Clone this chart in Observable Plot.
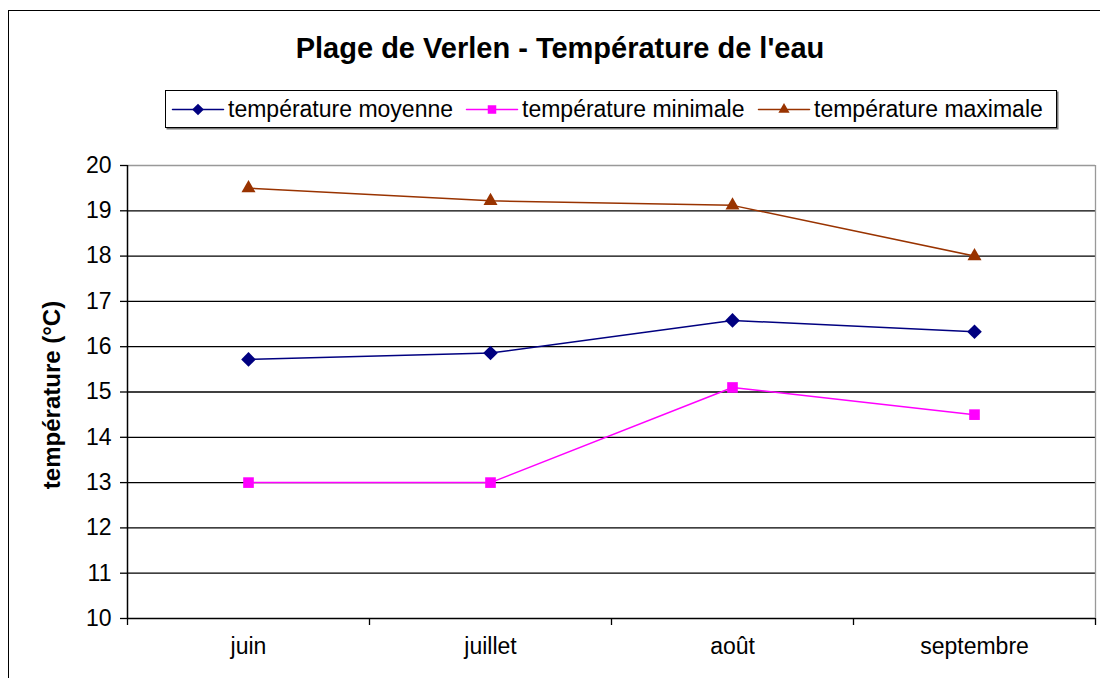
<!DOCTYPE html>
<html><head><meta charset="utf-8">
<script src="https://cdn.jsdelivr.net/npm/d3@7"></script>
<script src="https://cdn.jsdelivr.net/npm/@observablehq/plot@0.6"></script>
<style>
body{margin:0;background:#fff;font-family:"Liberation Sans",Arial,sans-serif;}
#wrap{position:relative;width:1100px;height:678px;overflow:hidden;}
#frame{position:absolute;left:8px;top:10px;width:1200px;height:800px;border-left:1.5px solid #000;border-top:1.5px solid #000;}
#title{position:absolute;left:0;width:1120px;top:31px;text-align:center;font-weight:bold;font-size:29px;line-height:34px;color:#000;}
#legend{position:absolute;left:165px;top:90px;width:890px;height:36px;border:1.2px solid #000;box-shadow:1.5px 1.5px 0 #777;color:#000;background:#fff;}
.item{position:absolute;top:0;height:36px;display:flex;align-items:center;font-size:23px;}
.item svg{margin-right:5px;}
#chart{position:absolute;left:0;top:0;}
</style></head>
<body><div id="wrap"><div id="frame"></div><div id="title"></div><div id="legend"></div><div id="chart"></div></div>
<script>
const months = ["juin","juillet","août","septembre"];
const moyenne = [15.72,15.86,16.58,16.33];
const minimale = [13.0,13.0,15.1,14.5];
const maximale = [19.5,19.22,19.12,18.0];
const seriesNames = ["température moyenne","température minimale","température maximale"];
const colors = ["#000080","#FF00FF","#993300"];
const symbols = ["diamond2","square","triangle"];
const yTicks = [10,11,12,13,14,15,16,17,18,19,20];

document.getElementById("title").textContent = "Plage de Verlen - Température de l'eau";

const allSeries = [moyenne, minimale, maximale];
const data = [];
allSeries.forEach((vals, s) => vals.forEach((v, i) => data.push({serie: seriesNames[s], pos: i + 0.5, month: months[i], value: v})));

const markerR = {"température moyenne": 6.6, "température minimale": 6.0, "température maximale": 5.2};

const chart = Plot.plot({
  width: 1100, height: 678,
  marginLeft: 127, marginRight: 5, marginTop: 165, marginBottom: 60,
  style: {fontFamily: "'Liberation Sans', Arial, sans-serif", background: "transparent", overflow: "visible"},
  x: {type: "linear", domain: [0, months.length], axis: null},
  y: {domain: [10, 20], axis: null},
  color: {domain: seriesNames, range: colors},
  symbol: {domain: seriesNames, range: symbols},
  marks: [
    Plot.ruleY(yTicks.filter(t => t > 10 && t < 20), {stroke: "#000", strokeWidth: 1.3}),
    Plot.ruleY([20], {stroke: "#999", strokeWidth: 1.3}),
    Plot.ruleX([months.length], {stroke: "#999", strokeWidth: 1.3}),
    Plot.ruleY([10], {stroke: "#000", strokeWidth: 1.5}),
    Plot.ruleX([0], {stroke: "#000", strokeWidth: 1.5}),
    Plot.axisY({ticks: yTicks, tickSize: 7, tickPadding: 9, fontSize: 23, stroke: "#000", strokeWidth: 1.3, label: null, fill: "#000"}),
    Plot.axisX({ticks: d3.range(0, months.length + 1), tickSize: 7, tickFormat: () => "", stroke: "#000", strokeWidth: 1.3, label: null}),
    Plot.axisX({ticks: months.map((m, i) => i + 0.5), tickSize: 0, tickPadding: 19, tickFormat: (d) => months[Math.floor(d)], fontSize: 23, fill: "#000", label: null}),
    Plot.line(data, {x: "pos", y: "value", z: "serie", stroke: "serie", strokeWidth: 1.5}),
    ...seriesNames.map(name => Plot.dot(data.filter(d => d.serie === name), {x: "pos", y: "value", symbol: "serie", fill: "serie", stroke: "none", r: markerR[name]}))
  ]
});
document.getElementById("chart").appendChild(chart);

// y label
d3.select(chart).append("text")
  .attr("transform", "translate(60,395) rotate(-90)")
  .attr("text-anchor", "middle")
  .attr("font-weight", "bold")
  .attr("font-size", 24)
  .attr("fill", "#000")
  .text("température (°C)");

// legend (swatches built from the same scales)
const leg = document.getElementById("legend");
const itemLeft = [6, 300, 592];
seriesNames.forEach((name, s) => {
  const item = document.createElement("div");
  item.className = "item";
  item.style.left = itemLeft[s] + "px";
  const sw = Plot.plot({
    width: 51, height: 20, margin: 0,
    x: {domain: [0, 1], axis: null}, y: {domain: [0, 1], axis: null},
    color: {domain: seriesNames, range: colors},
    symbol: {domain: seriesNames, range: symbols},
    style: {background: "transparent", overflow: "visible"},
    marks: [
      Plot.line([{x: 0, y: 0.5, s: name}, {x: 1, y: 0.5, s: name}], {x: "x", y: "y", stroke: "s", strokeWidth: 1.5}),
      Plot.dot([{x: 0.5, y: 0.5, s: name}], {x: "x", y: "y", symbol: "s", fill: "s", r: markerR[name] * 0.8})
    ]
  });
  item.appendChild(sw);
  const t = document.createElement("span");
  t.textContent = name;
  item.appendChild(t);
  leg.appendChild(item);
});
</script></body></html>
